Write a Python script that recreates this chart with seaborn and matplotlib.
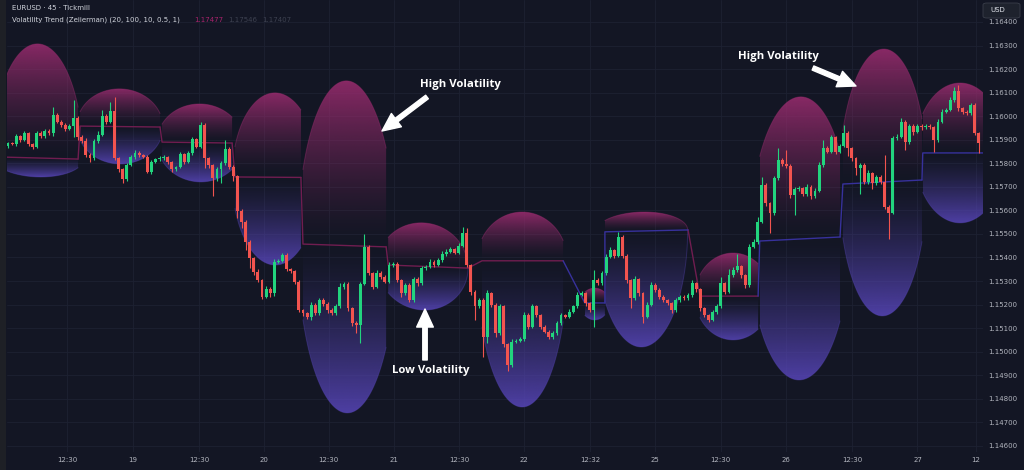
import numpy as np
import pandas as pd
import matplotlib
matplotlib.use("Agg")
import matplotlib.pyplot as plt
import seaborn as sns
from matplotlib.patches import Polygon, FancyBboxPatch, Rectangle

# ---------------- data ----------------
first_open_pts = 115874
close_pts = [
    115885, 115882, 115916, 115899, 115927, 115882, 115871, 115930, 115916, 115939,
    115927, 116004, 115977, 115961, 115947, 115958, 115991, 115913, 115896, 115835,
    115821, 115896, 115922, 116001, 115975, 116024, 115821, 115775, 115732, 115793,
    115825, 115845, 115835, 115828, 115765, 115807, 115817, 115823, 115825, 115806,
    115777, 115784, 115838, 115807, 115842, 115902, 115871, 115963, 115821, 115792,
    115736, 115775, 115800, 115862, 115786, 115746, 115599, 115550, 115467, 115397,
    115340, 115305, 115234, 115265, 115248, 115383, 115387, 115411, 115350, 115344,
    115298, 115177, 115163, 115146, 115199, 115163, 115220, 115203, 115177, 115163,
    115192, 115276, 115288, 115184, 115121, 115114, 115288, 115446, 115333, 115276,
    115336, 115319, 115298, 115368, 115373, 115305, 115248, 115284, 115220, 115308,
    115291, 115354, 115361, 115383, 115368, 115390, 115415, 115425, 115435, 115421,
    115450, 115503, 115368, 115255, 115192, 115220, 115064, 115248, 115199, 115078,
    115192, 115033, 114944, 115043, 115047, 115053, 115156, 115107, 115192, 115156,
    115107, 115085, 115064, 115078, 115121, 115156, 115149, 115170, 115192, 115241,
    115248, 115206, 115175, 115305, 115291, 115333, 115404, 115432, 115407, 115489,
    115407, 115305, 115227, 115308, 115248, 115149, 115199, 115284, 115262, 115234,
    115220, 115206, 115175, 115220, 115234, 115227, 115241, 115291, 115265, 115184,
    115156, 115135, 115170, 115192, 115291, 115255, 115326, 115347, 115364, 115326,
    115284, 115446, 115467, 115552, 115708, 115630, 115588, 115736, 115814, 115797,
    115789, 115666, 115690, 115694, 115670, 115701, 115661, 115684, 115793, 115864,
    115850, 115910, 115850, 115874, 115930, 115864, 115821, 115779, 115793, 115722,
    115758, 115715, 115741, 115722, 115616, 115591, 115906, 115913, 115977, 115892,
    115958, 115934, 115958, 115953, 115958, 115953, 115899, 115977, 116019, 116026,
    116069, 116108, 116033, 116019, 116012, 116048, 115929, 115885,
]
wick_up_pts = [
    6, 5, 8, 6, 10, 7, 5, 9, 6, 8, 6, 37, 8, 6, 10, 7, 78, 8, 6, 10,
    7, 8, 14, 25, 8, 37, 57, 6, 5, 8, 10, 12, 6, 5, 6, 8, 6, 7, 10, 6,
    5, 6, 8, 7, 9, 10, 6, 14, 7, 6, 5, 8, 10, 37, 6, 7, 6, 5, 8, 6,
    6, 10, 5, 12, 8, 10, 6, 9, 7, 6, 5, 8, 6, 7, 12, 8, 9, 7, 6, 8,
    9, 14, 10, 7, 6, 8, 10, 54, 8, 6, 10, 7, 6, 12, 10, 6, 5, 9, 6, 10,
    8, 9, 7, 10, 6, 8, 12, 9, 8, 7, 12, 28, 21, 6, 5, 10, 6, 14, 6, 7,
    12, 6, 5, 10, 7, 8, 14, 7, 12, 6, 5, 7, 6, 10, 9, 8, 6, 10, 8, 12,
    10, 6, 7, 42, 8, 10, 12, 14, 6, 21, 7, 6, 5, 12, 6, 5, 10, 14, 6, 7,
    6, 5, 7, 10, 8, 6, 9, 12, 7, 6, 5, 6, 9, 10, 28, 7, 24, 12, 51, 6,
    5, 12, 10, 21, 35, 8, 6, 12, 50, 8, 59, 6, 10, 8, 7, 12, 6, 10, 14, 35,
    8, 10, 7, 9, 33, 7, 6, 5, 10, 7, 12, 6, 9, 8, 113, 6, 12, 10, 14, 7,
    10, 7, 9, 8, 10, 7, 6, 12, 10, 9, 12, 17, 24, 7, 6, 10, 8, 6,
]
wick_dn_pts = [
    8, 6, 7, 10, 6, 8, 12, 6, 7, 8, 6, 10, 7, 6, 8, 5, 45, 12, 10, 8,
    14, 7, 8, 6, 10, 6, 8, 12, 14, 8, 6, 7, 10, 6, 8, 12, 7, 6, 8, 10,
    12, 8, 6, 10, 7, 8, 6, 8, 42, 10, 75, 12, 60, 8, 10, 20, 30, 25, 35, 42,
    14, 10, 12, 8, 14, 10, 6, 7, 8, 10, 12, 8, 10, 7, 12, 8, 9, 10, 14, 8,
    7, 6, 8, 10, 12, 35, 78, 6, 8, 10, 7, 12, 8, 6, 8, 10, 14, 8, 11, 7,
    10, 6, 8, 7, 9, 6, 8, 7, 6, 8, 7, 6, 10, 14, 57, 8, 85, 28, 10, 14,
    8, 12, 28, 10, 6, 7, 8, 12, 6, 8, 10, 7, 12, 8, 6, 7, 8, 6, 7, 8,
    6, 10, 8, 68, 7, 6, 8, 7, 10, 6, 8, 14, 42, 8, 12, 28, 7, 6, 8, 10,
    8, 7, 12, 6, 8, 7, 6, 8, 10, 12, 8, 7, 6, 8, 7, 10, 6, 8, 7, 12,
    14, 10, 7, 8, 6, 12, 85, 8, 6, 10, 8, 12, 85, 8, 10, 7, 12, 8, 6, 7,
    8, 6, 10, 7, 6, 35, 10, 28, 109, 12, 8, 25, 7, 10, 12, 113, 8, 7, 6, 35,
    8, 14, 7, 10, 8, 7, 50, 8, 6, 7, 6, 8, 10, 8, 7, 6, 10, 42,
]

# volatility bubbles (x in bar index, y in price)
bub_start = [-0.3, 17.6, 37.6, 55.4, 72.0, 92.8, 115.7, 140.8, 145.7, 168.9, 183.5, 203.8, 223.3]
bub_end   = [17.1, 37.1, 54.7, 71.5, 92.3, 112.3, 135.5, 145.7, 166.0, 183.1, 203.1, 223.1, 238.5]
bub_peak  = [7.3, 27.3, 46.9, 65.2, 82.7, 101.3, 125.5, 143.2, 154.7, 177.0, 193.3, 213.6, 232.4]
bub_halfw = [11.0, 10.5, 10.5, 10.5, 12.0, 11.0, 11.0, 3.5, 11.2, 9.3, 12.2, 10.7, 11.0]
bub_top   = [1.16307, 1.16116, 1.16052, 1.16099, 1.16150, 1.15547, 1.15593, 1.15270, 1.15593, 1.15419, 1.16082, 1.16285, 1.16141]
bub_bot   = [1.15742, 1.15797, 1.15721, 1.15368, 1.14740, 1.15177, 1.14765, 1.15135, 1.15020, 1.15050, 1.14880, 1.15152, 1.15547]
trend_c0  = [1.15826, 1.15958, 1.15890, 1.15742, 1.15457, 1.15368, 1.15386, 1.15207, 1.15509, 1.15236, 1.15470, 1.15712, 1.15844]
trend_c1  = [1.15818, 1.15954, 1.15886, 1.15740, 1.15445, 1.15355, 1.15386, 1.15207, 1.15517, 1.15236, 1.15487, 1.15729, 1.15844]
trend_dir = ["up", "up", "up", "up", "up", "up", "up", "dn", "dn", "up", "dn", "dn", "dn"]

tick_pos = [14.4, 30.5, 46.6, 62.4, 78.3, 94.2, 110.1, 126.0, 142.1, 158.0, 174.0, 190.0, 206.0, 222.0, 236.3]
tick_lab = ["12:30", "19", "12:30", "20", "12:30", "21", "12:30", "22", "12:32", "25",
            "12:30", "26", "12:30", "27", "12"]
price_ticks = [1.146, 1.147, 1.148, 1.149, 1.150, 1.151, 1.152, 1.153, 1.154, 1.155,
               1.156, 1.157, 1.158, 1.159, 1.160, 1.161, 1.162, 1.163, 1.164]

# ---------------- style ----------------
BG = "#131624"
GRID = "#1d2132"
GREEN = "#22d47e"
RED = "#f2544f"
PINK = np.array([156, 44, 112]) / 255
PURP = np.array([88, 70, 186]) / 255
TXT = "#b2b5be"

sns.set_theme(style="dark", rc={"axes.facecolor": BG, "figure.facecolor": BG,
                                "grid.color": GRID, "axes.edgecolor": BG})
plt.rcParams["font.family"] = ["DejaVu Sans"]

W, H = 1024, 470
fig = plt.figure(figsize=(W / 100, H / 100), dpi=100)
ax = fig.add_axes([7 / W, 18 / H, 976 / W, 452 / H])
ax.set_facecolor(BG)

c = np.array(close_pts) / 1e5
o = np.r_[first_open_pts / 1e5, c[:-1]]
hi = np.maximum(o, c) + np.array(wick_up_pts) / 1e5
lo = np.minimum(o, c) - np.array(wick_dn_pts) / 1e5
idx = np.arange(len(c))

# ---------------- bubbles ----------------
for k in range(len(bub_start)):
    s, e, pk, hw = bub_start[k], bub_end[k], bub_peak[k], bub_halfw[k]
    c0, c1 = trend_c0[k], trend_c1[k]
    xs = np.linspace(s, e, 240)
    cl = c0 + (c1 - c0) * (xs - s) / (e - s)
    cpk = c0 + (c1 - c0) * (pk - s) / (e - s)
    shape = np.sqrt(np.clip(1 - ((xs - pk) / hw) ** 2, 0, 1))
    ytop = cl + (bub_top[k] - cpk) * shape
    ybot = cl - (cpk - bub_bot[k]) * shape
    verts = np.r_[np.c_[xs, ytop], np.c_[xs[::-1], ybot[::-1]]]
    ylo, yhi = ybot.min(), ytop.max()
    ys = np.linspace(ylo, yhi, 400)
    img = np.zeros((len(ys), 2, 4))
    up = ys >= cpk
    t_up = np.clip((ys - cpk) / (bub_top[k] - cpk), 0, 1)
    t_dn = np.clip((cpk - ys) / (cpk - bub_bot[k]), 0, 1)
    img[up, :, :3] = PINK
    img[~up, :, :3] = PURP
    img[up, :, 3] = (0.86 * t_up[up] ** 1.45)[:, None]
    img[~up, :, 3] = (0.85 * t_dn[~up] ** 1.35)[:, None]
    im = ax.imshow(img, extent=(s, e, ylo, yhi), origin="lower", aspect="auto",
                   interpolation="bilinear", zorder=1)
    poly = Polygon(verts, closed=True, transform=ax.transData)
    im.set_clip_path(poly)
    ax.plot(xs, ytop, color=PINK, alpha=0.4, lw=0.7, zorder=1.5)
    ax.plot(xs, ybot, color=PURP, alpha=0.35, lw=0.7, zorder=1.5)

# trend (center) line through seaborn
rows = []
for k in range(len(bub_start)):
    if k > 0:
        rows.append((k, trend_dir[k], bub_end[k - 1], trend_c1[k - 1]))
    rows.append((k, trend_dir[k], bub_start[k], trend_c0[k]))
    rows.append((k, trend_dir[k], min(bub_end[k], 238.2), trend_c1[k]))
tl = pd.DataFrame(rows, columns=["seg", "dir", "x", "y"])
sns.lineplot(data=tl, x="x", y="y", hue="dir", units="seg", estimator=None, sort=False,
             palette={"up": "#701d50", "dn": "#37319c"}, lw=1.0, legend=False, ax=ax, zorder=2)

# ---------------- candles ----------------
col = np.where(c >= o, GREEN, RED)
ax.vlines(idx, lo, hi, colors=col, lw=0.8, zorder=3)
ax.bar(idx, np.maximum(np.abs(c - o), 0.00002), bottom=np.minimum(o, c), width=0.7,
       color=col, linewidth=0, zorder=4)

# ---------------- axes ----------------
ax.set_xlim(-0.25, 238.0)
ax.set_ylim(1.145741, 1.164934)
ax.set_xlabel("")
ax.set_ylabel("")
ax.set_xticks(tick_pos)
ax.set_xticklabels(tick_lab)
ax.set_yticks(price_ticks)
ax.set_yticklabels([f"{p:.5f}" for p in price_ticks])
ax.yaxis.tick_right()
ax.tick_params(axis="y", length=0, pad=3.5, labelsize=5, colors=TXT)
ax.tick_params(axis="x", length=0, pad=3.5, labelsize=5, colors=TXT)
ax.grid(True, color=GRID, lw=0.6)
ax.set_axisbelow(True)
for sp in ax.spines.values():
    sp.set_visible(False)

# left toolbar strip
fig.patches.append(Rectangle((0, 0), 6 / W, 1, transform=fig.transFigure,
                             facecolor="#1e2026", edgecolor="none", zorder=5))
# USD box
fig.patches.append(FancyBboxPatch((983 / W, 1 - 18 / H), 37 / W, 15 / H,
                                  boxstyle="round,pad=0,rounding_size=0.004",
                                  transform=fig.transFigure, facecolor="#1e222d",
                                  edgecolor="#3a3e4a", lw=0.6, zorder=6))
fig.text(990 / W, 1 - 10.5 / H, "USD", color="#e0e3eb", fontsize=5, va="center",
         ha="left", zorder=7)

# header texts
fig.text(12 / W, 1 - 8 / H, "EURUSD · 45 · Tickmill", color="#d1d4dc", fontsize=5,
         va="center", ha="left")
fig.text(12 / W, 1 - 20 / H, "Volatility Trend (Zeiierman) (20, 100, 10, 0.5, 1)",
         color="#d1d4dc", fontsize=5, va="center", ha="left")
fig.text(194 / W, 1 - 20 / H, "1.17477", color="#a8236c", fontsize=5, va="center", ha="left")
fig.text(228 / W, 1 - 20 / H, "1.17546", color="#3d4150", fontsize=5, va="center", ha="left")
fig.text(262 / W, 1 - 20 / H, "1.17407", color="#3d4150", fontsize=5, va="center", ha="left")

# annotations
AFONT = ["Open Sans", "DejaVu Sans"]
arrow = dict(arrowstyle="simple,head_length=1.3,head_width=1.2,tail_width=0.32",
             color="white", mutation_scale=10, shrinkA=0, shrinkB=0)
fig.text(460 / W, 1 - 85 / H, "High Volatility", color="white", fontsize=8.2,
         fontweight="bold", family=AFONT, ha="center", va="center")
ax.annotate("", xy=(382, H - 131), xytext=(427, H - 97), xycoords="figure pixels",
            textcoords="figure pixels", arrowprops=arrow, zorder=8)
fig.text(431 / W, 1 - 370 / H, "Low Volatility", color="white", fontsize=8.2,
         fontweight="bold", family=AFONT, ha="center", va="center")
ax.annotate("", xy=(425, H - 309), xytext=(425, H - 360), xycoords="figure pixels",
            textcoords="figure pixels", arrowprops=arrow, zorder=8)
fig.text(778 / W, 1 - 57 / H, "High Volatility", color="white", fontsize=8.2,
         fontweight="bold", family=AFONT, ha="center", va="center")
ax.annotate("", xy=(856, H - 86), xytext=(813, H - 68), xycoords="figure pixels",
            textcoords="figure pixels", arrowprops=arrow, zorder=8)

fig.savefig("out.png", dpi=100, facecolor=BG)
